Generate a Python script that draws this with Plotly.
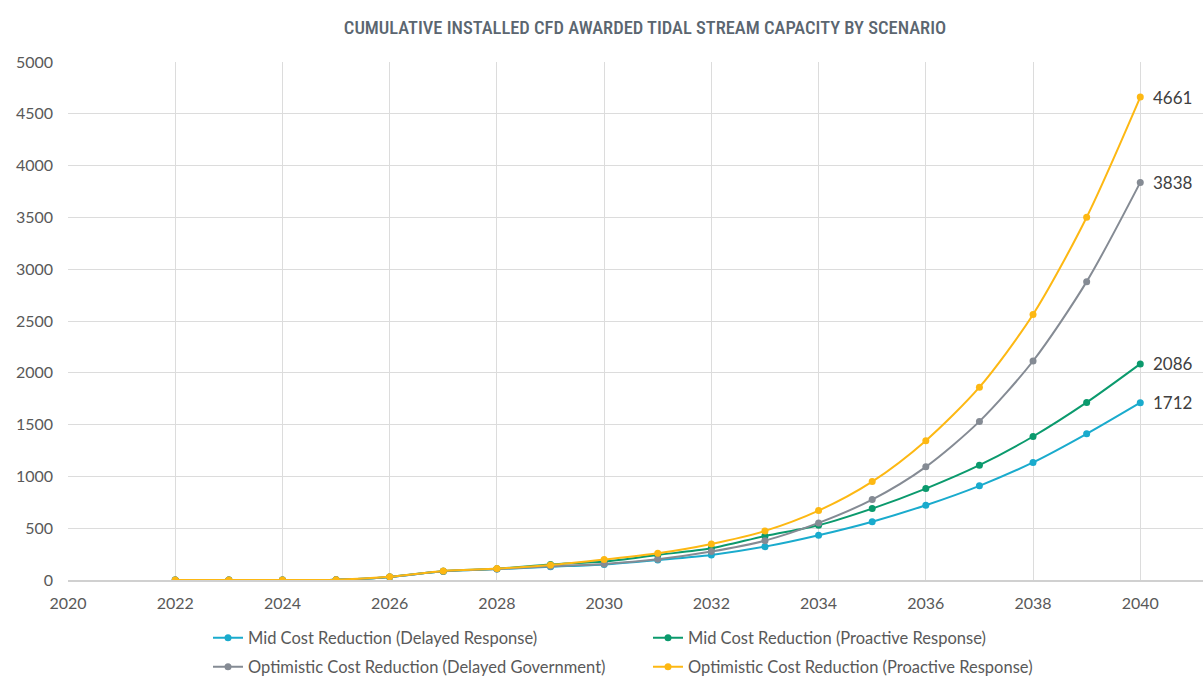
import plotly.graph_objects as go

years = list(range(2022, 2041))

mid_delayed = [0, 0, 0, 3, 30, 85, 105, 128, 150, 193, 242, 322, 432, 563, 722, 909, 1135, 1411, 1712]
mid_proactive = [0, 0, 0, 3, 30, 85, 108, 150, 178, 242, 306, 425, 529, 689, 882, 1108, 1385, 1714, 2086]
opt_delayed = [0, 0, 0, 3, 30, 85, 105, 132, 155, 200, 274, 380, 551, 776, 1092, 1531, 2114, 2880, 3838]
opt_proactive = [0, 0, 0, 3, 32, 88, 110, 145, 198, 258, 348, 474, 670, 950, 1345, 1861, 2563, 3502, 4661]

series_names = [
    "Mid Cost Reduction (Delayed Response)",
    "Mid Cost Reduction (Proactive Response)",
    "Optimistic Cost Reduction (Delayed Government)",
    "Optimistic Cost Reduction (Proactive Response)",
]
series_values = [mid_delayed, mid_proactive, opt_delayed, opt_proactive]
colors = ["#1AABCD", "#0B9A6D", "#858B94", "#FDB813"]
legend_ids = ["legend", "legend", "legend2", "legend2"]

fig = go.Figure()
for name, vals, col, lg in zip(series_names, series_values, colors, legend_ids):
    fig.add_trace(go.Scatter(
        x=years, y=vals, name=name, mode="lines+markers",
        line=dict(color=col, width=2, shape="spline", smoothing=0.8),
        marker=dict(color=col, size=7),
        legend=lg,
    ))
    fig.add_annotation(
        x=years[-1], y=vals[-1], text=str(vals[-1]), showarrow=False,
        xanchor="left", yanchor="middle", xshift=11,
        font=dict(family="Lato", size=17, color="#404040"),
    )

grid = "#DCDCDC"
legend_font = dict(family="Lato", size=16.5, color="#595959")
fig.update_layout(
    width=1203, height=677,
    paper_bgcolor="white", plot_bgcolor="white",
    margin=dict(l=68, r=0, t=62, b=97, autoexpand=False),
    title=dict(
        text="CUMULATIVE INSTALLED CFD AWARDED TIDAL STREAM CAPACITY BY SCENARIO",
        font=dict(family="Roboto Condensed, DejaVu Sans Condensed", size=18.5,
                  color="#5B6670", weight=500),
        x=645 / 1203, xanchor="center", xref="container",
        y=1 - 28 / 677, yanchor="middle", yref="container",
    ),
    xaxis=dict(
        range=[2020, 2041.17], tickmode="linear", tick0=2020, dtick=2,
        showgrid=True, gridcolor=grid, gridwidth=1,
        showline=True, linecolor="#D0D0D0", linewidth=2,
        zeroline=False, ticks="",
        tickfont=dict(family="Lato", size=16, color="#595959"),
        ticklabelstandoff=8,
    ),
    yaxis=dict(
        range=[0, 5000], tickmode="linear", tick0=0, dtick=500,
        showgrid=True, gridcolor=grid, gridwidth=1,
        zeroline=False, showline=False, ticks="",
        tickfont=dict(family="Lato", size=16, color="#595959"),
        ticklabelstandoff=14,
    ),
    legend=dict(
        orientation="h", xref="container", yref="container",
        x=208 / 1203, y=1 - 638 / 677, xanchor="left", yanchor="middle",
        entrywidth=395, entrywidthmode="pixels",
        font=legend_font, bgcolor="rgba(0,0,0,0)",
    ),
    legend2=dict(
        orientation="h", xref="container", yref="container",
        x=208 / 1203, y=1 - 667 / 677, xanchor="left", yanchor="middle",
        entrywidth=395, entrywidthmode="pixels",
        font=legend_font, bgcolor="rgba(0,0,0,0)",
    ),
)

fig.write_html(
    "out.html",
    config={"displayModeBar": False},
    post_script="document.body.style.margin='0';document.body.style.overflow='hidden';",
)
